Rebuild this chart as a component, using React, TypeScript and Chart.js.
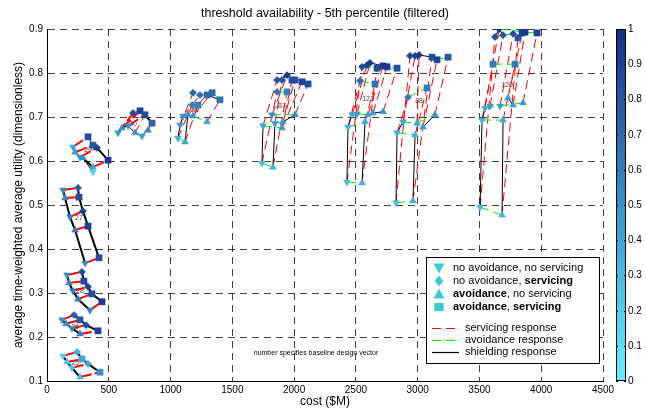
import React, { useEffect, useRef } from "react";
import { Chart, registerables } from "chart.js";

Chart.register(...registerables);

const FONT = '"Liberation Sans", Arial, Helvetica, sans-serif';

const xTicks = [0, 500, 1000, 1500, 2000, 2500, 3000, 3500, 4000, 4500];
const yTicks = [0.1, 0.2, 0.3, 0.4, 0.5, 0.6, 0.7, 0.8, 0.9];
const colorbarTicks = [0, 0.1, 0.2, 0.3, 0.4, 0.5, 0.6, 0.7, 0.8, 0.9, 1];
const titleText = "threshold availability - 5th percentile (filtered)";
const xTitle = "cost ($M)";
const yTitle = "average time-weighted average utility (dimensionless)";
const noteText = "number specifies baseline design vector";

// point: [cost, utility, colour value, marker]
type Pt = [number, number, number, string];
// edge: [from, to, response]  s/S = servicing, a = avoidance, h/H = shielding (capitals: paired variants overlapping)
type Edge = [number, number, string];

const ladder4Edges: Edge[] = [
  [0, 4, "S"], [1, 5, "S"], [2, 6, "S"], [3, 7, "S"],
  [0, 1, "H"], [1, 2, "H"], [2, 3, "H"], [4, 5, "H"], [5, 6, "H"], [6, 7, "H"],
];
const ladder5Edges: Edge[] = [
  [0, 5, "S"], [1, 6, "S"], [2, 7, "S"], [3, 8, "S"], [4, 9, "S"],
  [0, 1, "H"], [1, 2, "H"], [2, 3, "H"], [3, 4, "H"], [5, 6, "H"], [6, 7, "H"], [7, 8, "H"], [8, 9, "H"],
];

const dv25Points: Pt[] = [
  [130, 0.157, 0.2, "down"], [162, 0.143, 0.25, "up"], [202, 0.13, 0.25, "down"], [267, 0.109, 0.3, "up"],
  [243, 0.166, 0.35, "diamond"], [283, 0.15, 0.4, "square"], [332, 0.139, 0.4, "diamond"], [429, 0.12, 0.5, "square"],
];
const dv26Points: Pt[] = [
  [121, 0.239, 0.5, "down"], [154, 0.23, 0.55, "up"], [202, 0.22, 0.55, "down"], [267, 0.207, 0.6, "up"],
  [219, 0.25, 0.8, "diamond"], [267, 0.239, 0.8, "square"], [316, 0.227, 0.85, "diamond"], [413, 0.214, 0.9, "square"],
];
const dv28Points: Pt[] = [
  [162, 0.341, 0.55, "down"], [178, 0.323, 0.55, "up"], [210, 0.305, 0.6, "down"], [251, 0.286, 0.6, "up"], [348, 0.261, 0.55, "down"],
  [283, 0.348, 0.85, "diamond"], [299, 0.327, 0.85, "square"], [332, 0.314, 0.9, "diamond"], [364, 0.298, 0.85, "square"], [445, 0.28, 0.95, "square"],
];
const dv27Points: Pt[] = [
  [130, 0.534, 0.55, "down"], [146, 0.516, 0.55, "up"], [186, 0.473, 0.6, "down"], [227, 0.443, 0.6, "up"], [308, 0.368, 0.55, "down"],
  [251, 0.539, 0.8, "diamond"], [259, 0.518, 0.85, "square"], [291, 0.486, 0.9, "diamond"], [332, 0.452, 0.9, "square"], [421, 0.38, 0.85, "square"],
];
const dv29Points: Pt[] = [
  [210, 0.632, 0.4, "down"], [332, 0.655, 0.85, "square"], [227, 0.62, 0.45, "up"], [372, 0.636, 0.8, "square"],
  [267, 0.609, 0.5, "down"], [405, 0.63, 0.9, "diamond"], [291, 0.607, 0.5, "up"], [494, 0.602, 0.95, "square"],
  [372, 0.586, 0.4, "up"], [372, 0.575, 0.2, "down"],
];
const dv29Edges: Edge[] = [
  [0, 1, "S"], [2, 3, "S"], [4, 5, "S"], [8, 7, "S"],
  [0, 2, "h"], [2, 4, "h"], [4, 6, "H"], [1, 3, "h"], [3, 5, "h"], [6, 8, "H"], [5, 7, "H"], [6, 9, "h"],
  [8, 9, "a"],
];
const dv30Points: Pt[] = [
  [575, 0.664, 0.45, "down"], [607, 0.675, 0.5, "up"], [656, 0.68, 0.5, "down"], [696, 0.709, 0.85, "diamond"],
  [753, 0.714, 0.9, "square"], [793, 0.705, 0.85, "square"], [850, 0.686, 0.75, "square"], [712, 0.664, 0.5, "up"],
  [769, 0.657, 0.45, "down"], [817, 0.67, 0.55, "up"],
];
const dv30Edges: Edge[] = [
  [0, 3, "S"], [1, 4, "S"], [2, 5, "S"], [7, 5, "s"], [9, 6, "s"], [8, 6, "s"],
  [0, 1, "h"], [1, 2, "h"], [3, 4, "h"], [4, 5, "h"], [5, 6, "H"], [2, 7, "h"], [7, 8, "h"],
  [8, 9, "a"],
];
const dv86Points: Pt[] = [
  [1060, 0.652, 0.35, "down"], [1117, 0.643, 0.4, "up"], [1077, 0.682, 0.45, "down"], [1101, 0.702, 0.5, "down"],
  [1141, 0.705, 0.5, "up"], [1182, 0.702, 0.5, "up"], [1295, 0.689, 0.45, "up"], [1174, 0.727, 0.6, "diamond"],
  [1222, 0.727, 0.6, "square"], [1182, 0.755, 0.75, "diamond"], [1238, 0.75, 0.7, "diamond"], [1295, 0.75, 0.7, "square"],
  [1336, 0.755, 0.7, "square"], [1400, 0.739, 0.65, "square"],
];
const dv86Edges: Edge[] = [
  [0, 7, "s"], [1, 8, "s"], [2, 9, "s"], [3, 10, "s"], [4, 11, "s"], [5, 12, "s"], [6, 13, "s"],
  [0, 2, "h"], [1, 4, "h"], [2, 3, "h"], [11, 13, "h"],
  [0, 1, "a"], [5, 6, "a"], [12, 13, "a"], [7, 8, "a"],
];
const dv87Points: Pt[] = [
  [1740, 0.595, 0.3, "down"], [1829, 0.586, 0.35, "up"], [1748, 0.68, 0.4, "down"], [1902, 0.675, 0.45, "up"],
  [1845, 0.686, 0.45, "down"], [1910, 0.689, 0.45, "up"], [1821, 0.705, 0.5, "down"], [2007, 0.705, 0.55, "up"],
  [1862, 0.757, 0.65, "diamond"], [1943, 0.757, 0.6, "square"], [1862, 0.784, 0.8, "diamond"], [1902, 0.784, 0.8, "diamond"],
  [1943, 0.795, 0.95, "diamond"], [1983, 0.784, 0.85, "square"], [2007, 0.784, 0.85, "square"], [2064, 0.78, 0.9, "square"],
  [2113, 0.775, 0.85, "square"],
];
const dv87Edges: Edge[] = [
  [0, 8, "s"], [1, 9, "s"], [2, 10, "s"], [3, 13, "s"], [4, 11, "s"], [5, 14, "s"], [6, 12, "s"], [7, 16, "s"], [3, 15, "s"],
  [0, 2, "h"], [1, 4, "h"], [5, 7, "h"], [12, 10, "h"], [12, 11, "h"], [15, 16, "h"],
  [0, 1, "a"], [2, 3, "a"], [4, 5, "a"], [6, 7, "a"], [8, 9, "a"], [10, 13, "a"], [14, 16, "a"],
];
const dv123Points: Pt[] = [
  [2428, 0.552, 0.3, "down"], [2550, 0.55, 0.35, "up"], [2436, 0.677, 0.35, "down"], [2574, 0.689, 0.4, "up"],
  [2469, 0.705, 0.4, "down"], [2509, 0.707, 0.45, "down"], [2598, 0.705, 0.45, "up"], [2639, 0.709, 0.45, "up"],
  [2720, 0.712, 0.5, "up"], [2533, 0.782, 0.7, "diamond"], [2655, 0.775, 0.65, "square"], [2550, 0.814, 0.85, "diamond"],
  [2590, 0.818, 0.9, "diamond"], [2614, 0.823, 0.95, "diamond"], [2671, 0.811, 0.85, "square"], [2720, 0.816, 0.95, "square"],
  [2752, 0.814, 0.95, "square"], [2833, 0.811, 0.85, "square"],
];
const dv123Edges: Edge[] = [
  [0, 11, "s"], [1, 14, "s"], [2, 9, "s"], [3, 10, "s"], [4, 12, "s"], [5, 13, "s"], [6, 15, "s"], [7, 16, "s"], [8, 17, "s"],
  [0, 2, "h"], [1, 3, "h"], [2, 4, "h"], [7, 8, "h"], [13, 12, "h"], [13, 16, "h"],
  [0, 1, "a"], [2, 3, "a"], [4, 5, "a"], [5, 6, "a"], [6, 7, "a"], [9, 10, "a"], [11, 14, "a"], [14, 17, "a"],
];
const dv88Points: Pt[] = [
  [2825, 0.505, 0.3, "down"], [2962, 0.509, 0.35, "up"], [2833, 0.664, 0.35, "down"], [2979, 0.659, 0.35, "up"],
  [2881, 0.689, 0.4, "down"], [2995, 0.686, 0.4, "up"], [3043, 0.677, 0.45, "up"], [3140, 0.705, 0.5, "up"],
  [2922, 0.745, 0.6, "diamond"], [3076, 0.766, 0.6, "square"], [2938, 0.839, 0.9, "diamond"], [2979, 0.839, 0.9, "diamond"],
  [3011, 0.841, 0.95, "diamond"], [3116, 0.836, 0.85, "square"], [3157, 0.83, 0.9, "square"], [3246, 0.836, 0.8, "square"],
];
const dv88Edges: Edge[] = [
  [0, 10, "s"], [1, 13, "s"], [2, 8, "s"], [3, 9, "s"], [4, 11, "s"], [5, 12, "s"], [6, 14, "s"], [7, 15, "s"],
  [0, 2, "h"], [1, 3, "h"], [2, 4, "h"], [6, 7, "h"], [12, 13, "h"],
  [0, 1, "a"], [2, 3, "a"], [4, 5, "a"], [5, 7, "a"], [8, 9, "a"], [10, 11, "a"], [13, 14, "a"], [14, 15, "a"],
];
const dv120Points: Pt[] = [
  [3505, 0.495, 0.3, "down"], [3683, 0.477, 0.35, "up"], [3521, 0.693, 0.35, "down"], [3691, 0.693, 0.4, "up"],
  [3545, 0.72, 0.4, "down"], [3586, 0.725, 0.45, "down"], [3667, 0.725, 0.45, "down"], [3731, 0.743, 0.45, "up"],
  [3772, 0.727, 0.45, "up"], [3853, 0.732, 0.45, "up"], [3610, 0.82, 0.6, "square"], [3788, 0.82, 0.6, "square"],
  [3659, 0.9, 0.95, "diamond"], [3626, 0.882, 0.85, "diamond"], [3691, 0.886, 0.85, "diamond"], [3772, 0.889, 0.85, "diamond"],
  [3812, 0.88, 0.8, "square"], [3845, 0.891, 0.9, "square"], [3869, 0.893, 0.95, "square"], [3966, 0.891, 0.9, "square"],
];
const dv120Edges: Edge[] = [
  [0, 13, "s"], [1, 16, "s"], [2, 10, "s"], [3, 11, "s"], [4, 12, "s"], [5, 14, "s"], [6, 15, "s"], [7, 17, "s"], [8, 18, "s"], [9, 19, "s"],
  [0, 2, "h"], [1, 3, "h"], [2, 4, "h"], [12, 13, "h"], [12, 14, "h"], [7, 8, "h"],
  [0, 1, "a"], [2, 3, "a"], [4, 6, "a"], [6, 9, "a"], [10, 11, "a"], [13, 14, "a"], [14, 15, "a"], [12, 18, "a"], [18, 19, "a"],
];

const clusterLabels = ["25", "26", "28", "27", "29", "30", "86", "87", "123", "88", "120"];
const clusterLabelX = [227, 227, 267, 259, 332, 696, 1198, 1902, 2598, 3011, 3723];
const clusterLabelY = [0.141, 0.223, 0.305, 0.47, 0.625, 0.684, 0.716, 0.725, 0.741, 0.736, 0.773];

const clusters: [Pt[], Edge[]][] = [
  [dv25Points, ladder4Edges], [dv26Points, ladder4Edges], [dv28Points, ladder5Edges], [dv27Points, ladder5Edges],
  [dv29Points, dv29Edges], [dv30Points, dv30Edges], [dv86Points, dv86Edges], [dv87Points, dv87Edges],
  [dv123Points, dv123Edges], [dv88Points, dv88Edges], [dv120Points, dv120Edges],
];

const cmapStops: [number, number[]][] = [
  [0, [100, 238, 252]], [0.25, [74, 198, 230]], [0.5, [56, 146, 200]], [0.75, [42, 96, 168]], [1, [25, 45, 135]],
];
function cmap(v: number): string {
  for (let i = 1; i < cmapStops.length; i++) {
    const [v1, c1] = cmapStops[i];
    const [v0, c0] = cmapStops[i - 1];
    if (v <= v1) {
      const t = (v - v0) / (v1 - v0);
      const c = c0.map((a, k) => Math.round(a + (c1[k] - a) * t));
      return `rgb(${c[0]},${c[1]},${c[2]})`;
    }
  }
  return "rgb(25,45,135)";
}

const legendCyan = "#3ccad2";
const responseColors: Record<string, string> = { s: "#ff0000", S: "#ff0000", a: "#00ee00", h: "#000000", H: "#000000" };

function drawMarker(ctx: CanvasRenderingContext2D, shape: string, x: number, y: number, r: number) {
  ctx.beginPath();
  if (shape === "down") {
    ctx.moveTo(x - r, y - r * 0.8); ctx.lineTo(x + r, y - r * 0.8); ctx.lineTo(x, y + r);
  } else if (shape === "up") {
    ctx.moveTo(x - r, y + r * 0.8); ctx.lineTo(x + r, y + r * 0.8); ctx.lineTo(x, y - r);
  } else if (shape === "diamond") {
    ctx.moveTo(x, y - r); ctx.lineTo(x + r * 0.8, y); ctx.lineTo(x, y + r); ctx.lineTo(x - r * 0.8, y);
  } else {
    ctx.rect(x - r * 0.85, y - r * 0.75, r * 1.7, r * 1.5);
  }
  ctx.closePath();
  ctx.fill();
}

const legendMarkers: [string, [string, boolean][]][] = [
  ["down", [["no avoidance, no servicing", false]]],
  ["diamond", [["no avoidance, ", false], ["servicing", true]]],
  ["up", [["avoidance", true], [", no servicing", false]]],
  ["square", [["avoidance", true], [", ", false], ["servicing", true]]],
];
const legendLines: [string, string][] = [
  ["s", "servicing response"],
  ["a", "avoidance response"],
  ["h", "shielding response"],
];

const overlay = {
  id: "overlay",
  beforeDatasetsDraw(chart: any) {
    const { ctx, scales } = chart;
    ctx.save();
    ctx.fillStyle = "#444";
    ctx.font = `7px ${FONT}`;
    ctx.textAlign = "center";
    ctx.textBaseline = "middle";
    clusterLabels.forEach((t, i) => {
      ctx.fillText(t, scales.x.getPixelForValue(clusterLabelX[i]), scales.y.getPixelForValue(clusterLabelY[i]));
    });
    ctx.restore();
  },
  afterDraw(chart: any) {
    const { ctx, chartArea: ca } = chart;
    ctx.save();
    ctx.fillStyle = "#000";
    ctx.font = `12.5px ${FONT}`;
    ctx.textAlign = "center";
    ctx.textBaseline = "middle";
    ctx.fillText(titleText, (ca.left + ca.right) / 2, 14);

    ctx.font = `7px ${FONT}`;
    ctx.fillText(noteText, 316, 353);

    const cbL = 616, cbR = 626, cbT = ca.top, cbB = ca.bottom;
    const g = ctx.createLinearGradient(0, cbB, 0, cbT);
    for (let i = 0; i <= 20; i++) g.addColorStop(i / 20, cmap(i / 20));
    ctx.fillStyle = g;
    ctx.fillRect(cbL, cbT, cbR - cbL, cbB - cbT);
    ctx.strokeStyle = "#000";
    ctx.lineWidth = 1;
    ctx.strokeRect(cbL + 0.5, cbT + 0.5, cbR - cbL - 1, cbB - cbT - 1);
    ctx.font = `10px ${FONT}`;
    ctx.textAlign = "left";
    colorbarTicks.forEach((v) => {
      const yy = Math.round(cbB - (cbB - cbT) * v) + 0.5;
      ctx.beginPath();
      ctx.moveTo(cbL, yy); ctx.lineTo(cbL + 2, yy);
      ctx.moveTo(cbR, yy); ctx.lineTo(cbR - 2, yy);
      ctx.stroke();
      ctx.fillStyle = "#000";
      ctx.fillText(String(v), cbR + 2, yy);
    });

    const lx = 426, ly = 257, lw = 173, lh = 106;
    ctx.fillStyle = "#fff";
    ctx.fillRect(lx, ly, lw, lh);
    ctx.strokeStyle = "#000";
    ctx.strokeRect(lx + 0.5, ly + 0.5, lw, lh);
    const rowY = [268, 281, 294, 307];
    legendMarkers.forEach(([shape, parts], i) => {
      ctx.fillStyle = legendCyan;
      drawMarker(ctx, shape, 439, rowY[i], 5.5);
      let cx = 453;
      ctx.fillStyle = "#000";
      for (const [t, b] of parts) {
        ctx.font = `${b ? "bold " : ""}11px ${FONT}`;
        ctx.fillText(t, cx, rowY[i]);
        cx += ctx.measureText(t).width;
      }
    });
    const lineY = [328, 340, 352];
    legendLines.forEach(([k, t], i) => {
      ctx.strokeStyle = responseColors[k];
      ctx.lineWidth = 1.2;
      ctx.setLineDash(k === "h" ? [] : [9, 5]);
      ctx.beginPath();
      ctx.moveTo(432, lineY[i] + 0.5);
      ctx.lineTo(459, lineY[i] + 0.5);
      ctx.stroke();
      ctx.setLineDash([]);
      ctx.fillStyle = "#000";
      ctx.font = `11px ${FONT}`;
      ctx.fillText(t, 465, lineY[i]);
    });
    ctx.restore();
  },
};

function buildDatasets() {
  const shapes = ["down", "diamond", "up", "square"];
  const markerData: Record<string, { x: number; y: number }[]> = {};
  const markerColors: Record<string, string[]> = {};
  shapes.forEach((s) => { markerData[s] = []; markerColors[s] = []; });
  const lineData: Record<string, { x: number; y: number }[]> = { s: [], S: [], a: [], h: [], H: [] };
  for (const [pts, edges] of clusters) {
    for (const p of pts) {
      markerData[p[3]].push({ x: p[0], y: p[1] });
      markerColors[p[3]].push(cmap(p[2]));
    }
    for (const [i, j, k] of edges) {
      const a = pts[i], b = pts[j];
      lineData[k].push({ x: a[0], y: a[1] }, { x: b[0], y: b[1] }, { x: NaN, y: NaN });
    }
  }
  const styleOf: Record<string, [string, number, number]> = {
    down: ["triangle", 180, 4],
    up: ["triangle", 0, 4],
    diamond: ["rectRot", 0, 3.6],
    square: ["rect", 0, 4.4],
  };
  const markerSets = shapes.map((s) => ({
    label: s,
    data: markerData[s],
    pointStyle: styleOf[s][0],
    rotation: styleOf[s][1],
    pointRotation: styleOf[s][1],
    pointRadius: styleOf[s][2],
    backgroundColor: markerColors[s],
    borderColor: markerColors[s],
    borderWidth: 0.5,
    showLine: false,
    order: 0,
  }));
  const widthOf: Record<string, number> = { s: 1, S: 2, a: 1, h: 1, H: 2 };
  const dashOf: Record<string, number[]> = { s: [9, 5], S: [12, 3], a: [9, 5], h: [], H: [] };
  const lineSets = ["H", "h", "a", "S", "s"].map((k) => ({
    label: k,
    data: lineData[k],
    showLine: true,
    spanGaps: false,
    pointRadius: 0,
    borderColor: responseColors[k],
    borderWidth: widthOf[k],
    borderDash: dashOf[k],
    order: 1,
  }));
  return [...markerSets, ...lineSets];
}

export default function App() {
  const ref = useRef<HTMLCanvasElement | null>(null);
  useEffect(() => {
    if (!ref.current) return;
    const chart = new Chart(ref.current, {
      type: "scatter",
      data: { datasets: buildDatasets() as any },
      options: {
        responsive: false,
        animation: false,
        layout: { padding: { top: 29, right: 43, left: 0, bottom: 0 } },
        plugins: { legend: { display: false }, tooltip: { enabled: false }, title: { display: false } },
        scales: {
          x: {
            type: "linear",
            min: 0,
            max: 4500,
            afterBuildTicks: (s: any) => { s.ticks = xTicks.map((v) => ({ value: v })); },
            afterFit: (s: any) => { s.height = 30; },
            ticks: { color: "#000", font: { family: FONT, size: 10 }, padding: 3, maxRotation: 0, autoSkip: false, callback: (v: any) => String(v) },
            grid: { color: "rgba(0,0,0,0.75)", lineWidth: 1, drawTicks: false },
            border: { display: true, color: "#000", width: 1, dash: [7, 5] },
            title: { display: true, text: xTitle, color: "#000", font: { family: FONT, size: 12 }, padding: { top: 0, bottom: 2 } },
          },
          y: {
            type: "linear",
            min: 0.1,
            max: 0.9,
            afterBuildTicks: (s: any) => { s.ticks = yTicks.map((v) => ({ value: v })); },
            afterFit: (s: any) => { s.width = 47; },
            ticks: { color: "#000", font: { family: FONT, size: 10 }, padding: 4, autoSkip: false, callback: (v: any) => Number(v).toFixed(1) },
            grid: { color: "rgba(0,0,0,0.75)", lineWidth: 1, drawTicks: false },
            border: { display: true, color: "#000", width: 1, dash: [7, 5] },
            title: { display: true, text: yTitle, color: "#000", font: { family: FONT, size: 12 }, padding: { top: 11, bottom: 0 } },
          },
        },
      },
      plugins: [overlay],
    });
    return () => chart.destroy();
  }, []);
  return (
    <div style={{ position: "fixed", left: 0, top: 0, width: 646, height: 411, background: "#fff" }}>
      <canvas ref={ref} width={646} height={411} style={{ display: "block", width: 646, height: 411 }} />
    </div>
  );
}
